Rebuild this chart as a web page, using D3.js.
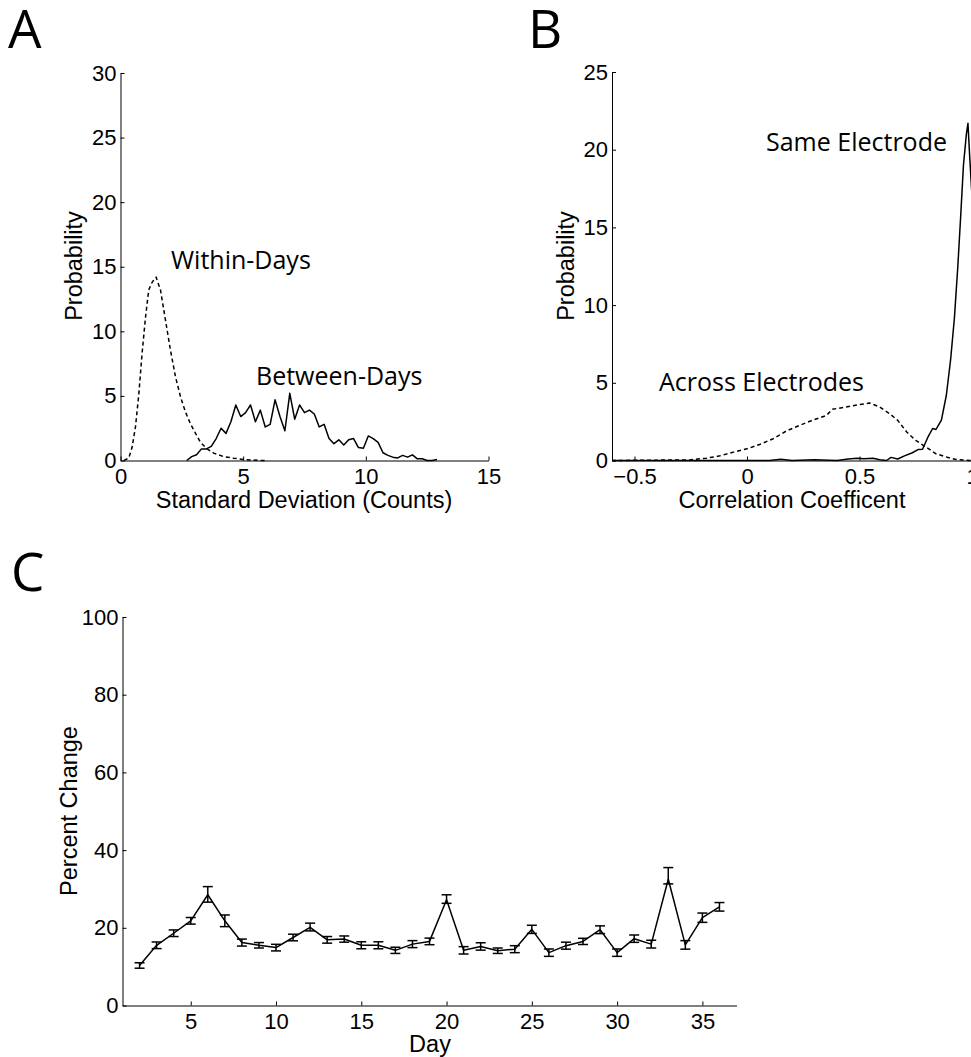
<!DOCTYPE html>
<html>
<head>
<meta charset="utf-8">
<script src="https://cdn.jsdelivr.net/npm/d3@7"></script>
<style>
  html, body { margin: 0; padding: 0; background: #fff; }
  svg { display: block; }
  .tick text { font-family: "Liberation Sans", Arial, sans-serif; font-size: 22px; fill: #000; }
  .axis path, .axis line { stroke: #000; stroke-width: 1; }
</style>
</head>
<body>
<svg id="chart" width="971" height="1057"></svg>
<script>
// ---------------- Panel A data ----------------
const withinX = [0.14, 0.34, 0.47, 0.61, 0.75, 0.88, 1.02, 1.15, 1.29, 1.45, 1.63, 1.83, 2.04, 2.24, 2.45, 2.65, 2.85, 3.06, 3.26, 3.53, 3.8, 4.2, 4.6, 5.0, 5.7, 6.0];
const withinY = [0, 0.2, 1.0, 2.6, 5.2, 8.3, 11.1, 13.2, 13.8, 14.2, 13.2, 10.9, 8.5, 6.5, 4.9, 3.75, 2.85, 2.1, 1.4, 0.9, 0.57, 0.3, 0.18, 0.08, 0, 0];

const betweenX = [2.7, 2.9, 3.1, 3.3, 3.5, 3.7, 3.9, 4.1, 4.3, 4.5, 4.7, 4.9, 5.1, 5.3, 5.5, 5.7, 5.9, 6.1, 6.3, 6.5, 6.7, 6.9, 7.1, 7.3, 7.5, 7.7, 7.9, 8.1, 8.3, 8.5, 8.7, 8.9, 9.1, 9.3, 9.5, 9.7, 9.9, 10.1, 10.3, 10.5, 10.7, 10.9, 11.1, 11.3, 11.5, 11.7, 11.9, 12.1, 12.3, 12.5, 12.7, 12.9];
const betweenY = [0, 0.3, 0.44, 0.9, 0.9, 1.1, 1.7, 2.5, 2.1, 3.0, 4.3, 3.4, 3.7, 4.3, 3.0, 3.9, 2.6, 2.8, 4.7, 3.4, 2.3, 5.2, 3.2, 4.3, 3.7, 3.9, 3.6, 2.6, 2.8, 1.7, 1.3, 1.6, 1.2, 1.6, 1.7, 1.0, 0.95, 1.9, 1.7, 1.4, 0.6, 0.4, 0.26, 0.2, 0.4, 0.26, 0.44, 0.13, 0.13, 0, 0, 0.08];

const aXTicks = [0, 5, 10, 15];
const aYTicks = [0, 5, 10, 15, 20, 25, 30];

// ---------------- Panel B data ----------------
const acrossX = [-0.6, -0.255, -0.18, -0.12, -0.06, 0, 0.056, 0.116, 0.175, 0.234, 0.293, 0.353, 0.38, 0.44, 0.5, 0.545, 0.59, 0.635, 0.67, 0.71, 0.75, 0.80, 0.84, 0.89, 0.93, 0.99, 1.0];
const acrossY = [0, 0.04, 0.15, 0.3, 0.54, 0.75, 1.03, 1.4, 1.9, 2.26, 2.6, 2.9, 3.3, 3.44, 3.6, 3.7, 3.44, 3.0, 2.58, 1.83, 1.29, 0.82, 0.43, 0.21, 0.06, 0, 0];

const sameX = [-0.6, 0.1, 0.15, 0.2, 0.3, 0.4, 0.45, 0.49, 0.52, 0.56, 0.59, 0.62, 0.64, 0.67, 0.70, 0.735, 0.76, 0.78, 0.804, 0.825, 0.84, 0.864, 0.886, 0.905, 0.922, 0.937, 0.95, 0.962, 0.975, 0.982, 0.99, 1.0];
const sameY = [0, 0, 0.08, 0, 0.05, 0, 0.1, 0.15, 0.12, 0.15, 0.05, 0, 0.2, 0.1, 0.3, 0.5, 0.7, 0.72, 1.5, 2.06, 2.0, 2.6, 4.2, 6.5, 9.2, 12.5, 15.8, 19.0, 21.0, 21.7, 19.5, 17.0];

const bXTicks = [-0.5, 0, 0.5, 1];
const bYTicks = [0, 5, 10, 15, 20, 25];

// ---------------- Panel C data ----------------
const days = [2, 3, 4, 5, 6, 7, 8, 9, 10, 11, 12, 13, 14, 15, 16, 17, 18, 19, 20, 21, 22, 23, 24, 25, 26, 27, 28, 29, 30, 31, 32, 33, 34, 35, 36];
const pctChange = [10.3, 15.5, 18.6, 21.8, 28.5, 21.8, 16.2, 15.5, 14.9, 17.5, 20.1, 16.9, 17.1, 15.5, 15.5, 14.2, 15.8, 16.5, 27.2, 14.2, 15.2, 14.1, 14.5, 19.6, 13.6, 15.4, 16.5, 19.5, 13.6, 17.2, 15.8, 32.5, 15.6, 22.6, 25.4];
const errUp   = [0.7, 0.85, 0.85, 0.85, 2.1, 1.5, 0.9, 0.7, 0.85, 0.85, 1.1, 0.85, 0.8, 0.9, 0.9, 0.8, 0.9, 0.85, 1.3, 0.95, 0.95, 0.7, 0.9, 1.05, 0.95, 0.9, 0.8, 1.0, 0.95, 0.95, 1.0, 3.0, 1.1, 1.2, 1.1];
const errDown = [0.7, 0.85, 0.85, 0.85, 1.9, 1.5, 0.9, 0.7, 0.85, 0.85, 0.9, 0.85, 0.8, 0.9, 0.9, 0.8, 0.9, 0.85, 0.9, 0.95, 0.95, 0.7, 0.9, 1.05, 0.95, 0.9, 0.8, 1.0, 0.95, 0.95, 1.0, 1.2, 1.1, 1.2, 1.1];

const cXTicks = [5, 10, 15, 20, 25, 30, 35];
const cYTicks = [0, 20, 40, 60, 80, 100];

// ---------------- Drawing ----------------
const svg = d3.select("#chart");
svg.append("rect").attr("width", 971).attr("height", 1057).attr("fill", "#fff");

const fmt = d => (d < 0 ? "\u2212" + Math.abs(d) : String(d));
const titleFont = '"Liberation Sans", Arial, sans-serif';
const annFont = '"Open Sans", "Noto Sans", sans-serif';

function axes(g, x, y, xTicks, yTicks) {
  g.append("g").attr("class", "axis")
    .attr("transform", `translate(0,${y.range()[0]})`)
    .call(d3.axisBottom(x).tickValues(xTicks).tickFormat(fmt).tickSizeInner(-4).tickSizeOuter(0).tickPadding(8));
  g.append("g").attr("class", "axis")
    .attr("transform", `translate(${x.range()[0]},0)`)
    .call(d3.axisLeft(y).tickValues(yTicks).tickFormat(fmt).tickSizeInner(-4).tickSizeOuter(0).tickPadding(4));
}

function xyLine(g, x, y, xs, ys, dashed) {
  const line = d3.line().x(d => x(d[0])).y(d => y(d[1]));
  g.append("path")
    .datum(xs.map((v, i) => [v, ys[i]]))
    .attr("d", line)
    .attr("fill", "none")
    .attr("stroke", "#000")
    .attr("stroke-width", 1.5)
    .attr("stroke-linejoin", "round")
    .attr("stroke-dasharray", dashed ? "4,3" : null);
}

function label(text, x, y, size, family, anchor, rotate) {
  const t = svg.append("text").text(text)
    .attr("font-family", family).attr("font-size", size)
    .attr("fill", "#000").attr("text-anchor", anchor || "start");
  if (rotate) t.attr("transform", `translate(${x},${y}) rotate(-90)`);
  else t.attr("x", x).attr("y", y);
  return t;
}

// Panel A
const xA = d3.scaleLinear().domain([0, 15]).range([120.5, 488.5]);
const yA = d3.scaleLinear().domain([0, 30]).range([460.5, 73]);
const gA = svg.append("g");
xyLine(gA, xA, yA, withinX, withinY, true);
xyLine(gA, xA, yA, betweenX, betweenY, false);
axes(gA, xA, yA, aXTicks, aYTicks);
label("Standard Deviation (Counts)", 304, 508, 23.5, titleFont, "middle");
label("Probability", 82, 266, 23.5, titleFont, "middle", true);
label("Within-Days", 171, 269, 25, annFont);
label("Between-Days", 256, 385, 25, annFont);
label("A", 8, 48, 53, annFont);

// Panel B
const xB = d3.scaleLinear().domain([-0.6, 1.0]).range([612, 972]);
const yB = d3.scaleLinear().domain([0, 25]).range([460.5, 72]);
const gB = svg.append("g");
xyLine(gB, xB, yB, acrossX, acrossY, true);
xyLine(gB, xB, yB, sameX, sameY, false);
axes(gB, xB, yB, bXTicks, bYTicks);
label("Correlation Coefficent", 792, 508, 23.5, titleFont, "middle");
label("Probability", 574, 266, 23.5, titleFont, "middle", true);
label("Same Electrode", 766, 151, 25, annFont);
label("Across Electrodes", 659, 391, 25, annFont);
label("B", 528, 48, 53, annFont);

// Panel C
const xC = d3.scaleLinear().domain([1, 37]).range([122.5, 736.5]);
const yC = d3.scaleLinear().domain([0, 100]).range([1005.5, 617]);
const gC = svg.append("g");
const cData = days.map((d, i) => ({ d, v: pctChange[i], hi: pctChange[i] + errUp[i], lo: pctChange[i] - errDown[i] }));
gC.append("path").datum(cData)
  .attr("d", d3.line().x(p => xC(p.d)).y(p => yC(p.v)))
  .attr("fill", "none").attr("stroke", "#000").attr("stroke-width", 1.5).attr("stroke-linejoin", "round");
const eb = gC.append("g").attr("stroke", "#000").attr("stroke-width", 1.5);
cData.forEach(p => {
  eb.append("line").attr("x1", xC(p.d)).attr("x2", xC(p.d)).attr("y1", yC(p.lo)).attr("y2", yC(p.hi));
  eb.append("line").attr("x1", xC(p.d) - 5).attr("x2", xC(p.d) + 5).attr("y1", yC(p.lo)).attr("y2", yC(p.lo));
  eb.append("line").attr("x1", xC(p.d) - 5).attr("x2", xC(p.d) + 5).attr("y1", yC(p.hi)).attr("y2", yC(p.hi));
});
axes(gC, xC, yC, cXTicks, cYTicks);
label("Day", 430, 1052, 23.5, titleFont, "middle");
label("Percent Change", 77, 811, 23.5, titleFont, "middle", true);
label("C", 11, 591, 53, annFont);
</script>
</body>
</html>
